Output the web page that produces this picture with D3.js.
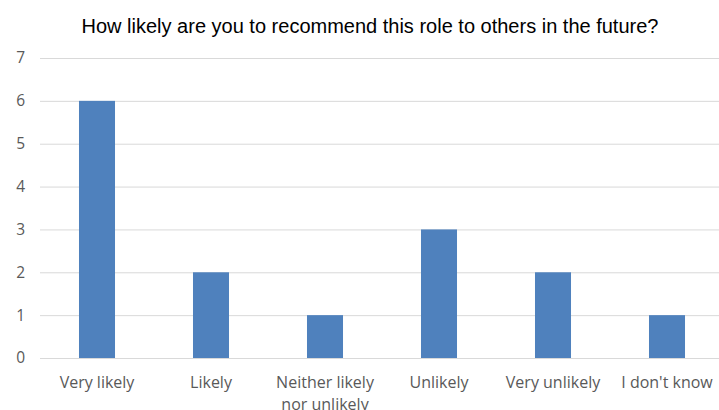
<!DOCTYPE html>
<html><head><meta charset="utf-8">
<script src="https://cdn.jsdelivr.net/npm/d3@7"></script>
<style>body{margin:0;background:#fff;}svg{display:block;}</style>
</head><body>
<svg id="chart" width="719" height="410"></svg>
<script>
const categories = ["Very likely", "Likely", "Neither likely\nnor unlikely", "Unlikely", "Very unlikely", "I don't know"];
const values = [6, 2, 1, 3, 2, 1];
const yTicks = [0, 1, 2, 3, 4, 5, 6, 7];
const title = "How likely are you to recommend this role to others in the future?";

const svg = d3.select("#chart");
const W = 719, H = 410;
const m = {left: 40, right: -5, top: 58, bottom: 52};
const x = d3.scaleBand().domain(categories).range([m.left, W - m.right]).paddingInner(0.684).paddingOuter(0.342);
const y = d3.scaleLinear().domain([0, 7]).range([H - m.bottom, m.top]);

svg.append("rect").attr("width", W).attr("height", H).attr("fill", "#fff");

svg.append("text").attr("x", 370).attr("y", 33).attr("text-anchor", "middle")
  .attr("font-family", "Liberation Sans, Arial, sans-serif").attr("font-size", 20).attr("fill", "#000").text(title);

const yAxis = svg.append("g").attr("transform", `translate(${m.left},0)`)
  .call(d3.axisLeft(y).tickValues(yTicks).tickSize(-(W - m.left)).tickPadding(0).tickFormat(d3.format("d")));
yAxis.select(".domain").remove();
yAxis.selectAll(".tick line").attr("stroke", "#d9d9d9").attr("stroke-width", 1);
yAxis.selectAll(".tick text").attr("x", -15).attr("fill", "#595959")
  .attr("font-family", "Open Sans, Liberation Sans, sans-serif").attr("font-size", 15.5);

svg.append("g").selectAll("rect").data(values).join("rect")
  .attr("x", (d, i) => x(categories[i]))
  .attr("width", x.bandwidth())
  .attr("y", d => y(d))
  .attr("height", d => y(0) - y(d))
  .attr("fill", "#4f81bd");

const xAxis = svg.append("g").attr("transform", `translate(0,${y(0)})`)
  .call(d3.axisBottom(x).tickSize(0).tickPadding(0));
xAxis.select(".domain").attr("stroke", "#d9d9d9");
xAxis.selectAll(".tick text").remove();
xAxis.selectAll(".tick").each(function(d) {
  const t = d3.select(this).append("text").attr("fill", "#595959").attr("text-anchor", "middle")
    .attr("font-family", "Open Sans, Liberation Sans, sans-serif").attr("font-size", 16);
  d.split("\n").forEach((line, i) => {
    t.append("tspan").attr("x", 0).attr("y", 30 + i * 22).text(line);
  });
});
</script>
</body></html>
